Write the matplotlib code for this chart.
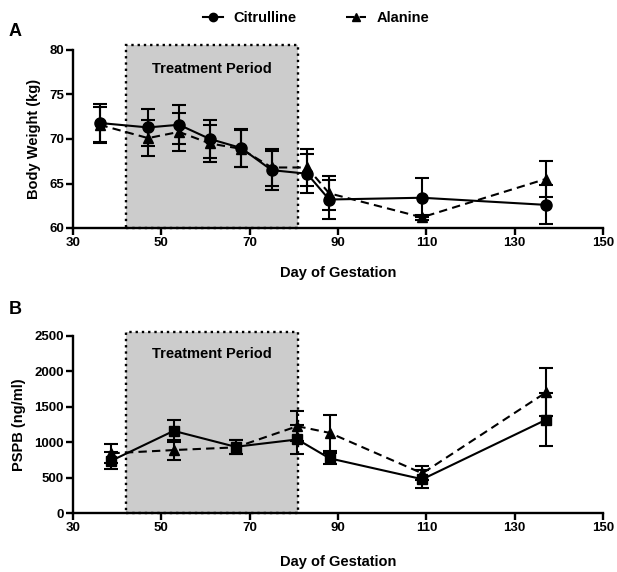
import matplotlib
matplotlib.use("Agg")
import matplotlib.pyplot as plt
from matplotlib.patches import Rectangle
from matplotlib.lines import Line2D

plt.rcParams['font.family'] = ['Liberation Sans', 'DejaVu Sans']
plt.rcParams['font.weight'] = 'bold'

# Panel A: body weight
days_a = [36, 47, 54, 61, 68, 75, 83, 88, 109, 137]
cit_bw = [71.8, 71.3, 71.6, 70.0, 69.0, 66.5, 66.1, 63.2, 63.4, 62.6]
cit_bw_err = [2.1, 2.1, 2.2, 2.1, 2.1, 2.2, 2.2, 2.2, 2.2, 2.2]
ala_bw = [71.6, 70.1, 70.8, 69.5, 68.9, 66.8, 66.8, 63.9, 61.2, 65.5]
ala_bw_err = [2.0, 2.0, 2.1, 2.1, 2.1, 2.1, 2.1, 1.9, 0.3, 2.0]

# Panel B: PSPB
days_b = [38.7, 52.8, 66.8, 80.8, 88.1, 109.1, 137.2]
cit_pspb = [739, 1160, 935, 1039, 772, 477, 1320]
cit_pspb_err = [120, 160, 100, 200, 80, 130, 370]
ala_pspb = [843, 889, 927, 1226, 1132, 560, 1708]
ala_pspb_err = [130, 140, 100, 210, 250, 100, 335]

treat_start, treat_end = 42, 81
xticks = [30, 50, 70, 90, 110, 130, 150]

fig = plt.figure(figsize=(6.17, 5.72), dpi=100)
axA = fig.add_axes([73/617, 1-228/572, 530/617, 178/572])
axB = fig.add_axes([73/617, 1-513/572, 530/617, 177/572])

def style(ax):
    for s in ['top', 'right']:
        ax.spines[s].set_visible(False)
    for s in ['left', 'bottom']:
        ax.spines[s].set_linewidth(1.7)
    ax.tick_params(width=1.7, length=5, labelsize=9.5, pad=1.5)
    ax.set_xlim(30, 150)
    ax.set_xticks(xticks)
    ax.set_xticklabels([str(t) for t in xticks], fontweight='bold')

ekw = dict(color='black', capsize=5, capthick=1.5, elinewidth=1.5, lw=1.5, zorder=3)
dash = (0, (4, 2.5))

# Panel A
axA.add_patch(Rectangle((treat_start, 60), treat_end - treat_start, 20.6,
                        facecolor='#cccccc', edgecolor='black', linestyle=':',
                        linewidth=1.7, clip_on=False, zorder=0))
axA.errorbar(days_a, cit_bw, yerr=cit_bw_err, fmt='-o', ms=8, **ekw)
axA.errorbar(days_a, ala_bw, yerr=ala_bw_err, fmt='^', ms=7, **ekw)
axA.plot(days_a, ala_bw, color='black', lw=1.5, ls=dash, zorder=3)
axA.set_ylim(60, 80)
axA.set_yticks([60, 65, 70, 75, 80])
axA.set_yticklabels(['60', '65', '70', '75', '80'], fontweight='bold')
style(axA)
axA.set_xlabel('Day of Gestation', fontsize=10.5, fontweight='bold', labelpad=12)
axA.set_ylabel('Body Weight (kg)', fontsize=10.5, fontweight='bold', labelpad=6)
axA.text(61.5, 77.9, 'Treatment Period', ha='center', va='center', fontsize=10.5, fontweight='bold')

# Panel B
axB.add_patch(Rectangle((treat_start, 0), treat_end - treat_start, 2560,
                        facecolor='#cccccc', edgecolor='black', linestyle=':',
                        linewidth=1.7, clip_on=False, zorder=0))
axB.errorbar(days_b, cit_pspb, yerr=cit_pspb_err, fmt='-s', ms=7, **ekw)
axB.errorbar(days_b, ala_pspb, yerr=ala_pspb_err, fmt='^', ms=7, **ekw)
axB.plot(days_b, ala_pspb, color='black', lw=1.5, ls=dash, zorder=3)
axB.set_ylim(0, 2500)
axB.set_yticks([0, 500, 1000, 1500, 2000, 2500])
axB.set_yticklabels(['0', '500', '1000', '1500', '2000', '2500'], fontweight='bold')
style(axB)
axB.set_xlabel('Day of Gestation', fontsize=10.5, fontweight='bold', labelpad=15)
axB.set_ylabel('PSPB (ng/ml)', fontsize=10.5, fontweight='bold', labelpad=6)
axB.text(61.5, 2250, 'Treatment Period', ha='center', va='center', fontsize=10.5, fontweight='bold')

fig.text(9/617, 1-31/572, 'A', fontsize=13, fontweight='bold', va='center')
fig.text(9/617, 1-310/572, 'B', fontsize=13, fontweight='bold', va='center')

handles = [Line2D([], [], color='black', lw=1.5, ls='-', marker='o', ms=6),
           Line2D([], [], color='black', lw=1.5, ls=dash, marker='^', ms=6)]
fig.legend(handles, ['Citrulline', 'Alanine'], loc='center', ncol=2,
           bbox_to_anchor=(316/617, 1-18/572), frameon=False,
           handlelength=1.4, columnspacing=3.4, handletextpad=0.7,
           prop={'weight': 'bold', 'size': 10.5})

fig.savefig('out.png', dpi=100)
